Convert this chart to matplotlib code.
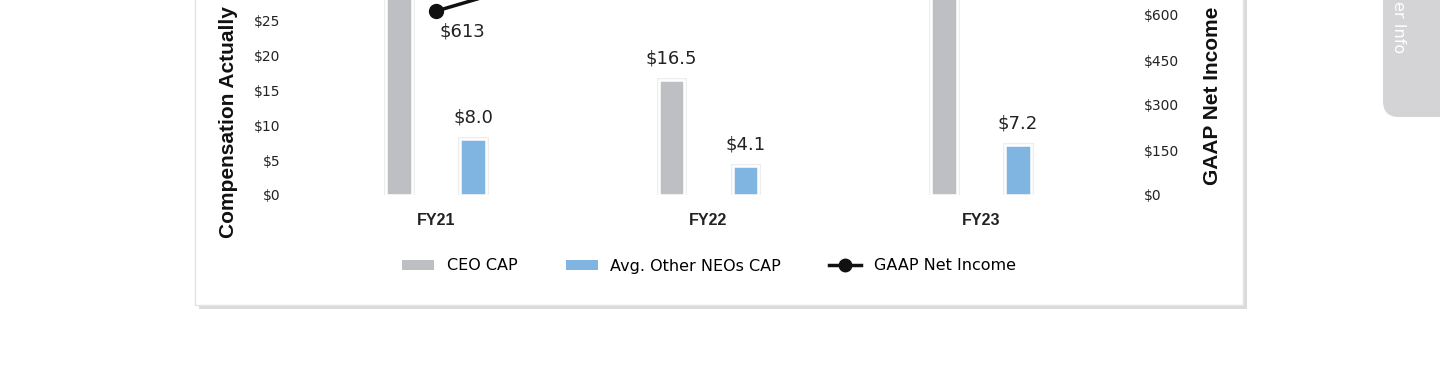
import matplotlib
matplotlib.use("Agg")
import matplotlib.pyplot as plt
import matplotlib.patheffects as pe
from matplotlib.patches import Patch, Rectangle, FancyBboxPatch
from matplotlib.lines import Line2D

# data (values above the visible frame are estimates)
years = ["FY21", "FY22", "FY23"]
ceo_cap = [45.0, 16.5, 40.0]
neo_cap = [8.0, 4.1, 7.2]
net_income = [613, 880, 900]
neo_labels = ["$8.0", "$4.1", "$7.2"]
ceo_labels = [None, "$16.5", None]
ni_labels = ["$613", None, None]
left_ticks = [0, 5, 10, 15, 20, 25]
right_ticks = [0, 150, 300, 450, 600]

gray = "#bebfc3"
blue = "#80b5e1"
num_font = "DejaVu Sans"

W, H = 1440, 375
fig = plt.figure(figsize=(W / 100, H / 100), dpi=100)

# background: card + side tab, drawn in pixel coords
bg = fig.add_axes([0, 0, 1, 1], zorder=-5)
bg.set_xlim(0, W)
bg.set_ylim(H, 0)
bg.axis("off")
card = Rectangle((195, -50), 1048, 355, facecolor="white", edgecolor="#e4e4e4", lw=1,
                 path_effects=[pe.SimplePatchShadow(offset=(3, -3), shadow_rgbFace="#9a9a9a", alpha=0.35),
                               pe.Normal()])
bg.add_patch(card)
tab = FancyBboxPatch((1383, -60), 120, 177, boxstyle="round,pad=0,rounding_size=16",
                     facecolor="#d4d4d6", edgecolor="none")
bg.add_patch(tab)
bg.text(1399, 53, "er Info", rotation=-90, color="white", fontsize=11.5,
        family=num_font, ha="center", va="bottom")

# main axes
ax = fig.add_axes([290 / W, 1 - 195 / H, 840 / W, 195 / H])
ax.set_xlim(-0.536, 2.547)
ax.set_ylim(0, 195 / 6.96)
ax2 = ax.twinx()
ax2.set_ylim(0, 195 / 0.300)

x = range(len(years))
off = 0.136
bw = 0.094
glow = [pe.SimplePatchShadow(offset=(1.5, -1.5), shadow_rgbFace="#cfcfcf", alpha=0.6),
        pe.Stroke(linewidth=3.6, foreground="#ededed"),
        pe.Normal()]
b1 = ax.bar([i - off for i in x], ceo_cap, bw, color=gray, edgecolor="white", lw=1.8)
b2 = ax.bar([i + off for i in x], neo_cap, bw, color=blue, edgecolor="white", lw=1.8)
for b in list(b1) + list(b2):
    b.set_path_effects(glow)

for rect, lab in zip(b1, ceo_labels):
    if lab:
        ax.annotate(lab, (rect.get_x() + rect.get_width() / 2, rect.get_height()),
                    xytext=(0, 9), textcoords="offset points", ha="center", va="bottom",
                    fontsize=13, family=num_font, color="#222222")
for rect, lab in zip(b2, neo_labels):
    ax.annotate(lab, (rect.get_x() + rect.get_width() / 2, rect.get_height()),
                xytext=(0, 9), textcoords="offset points", ha="center", va="bottom",
                fontsize=13, family=num_font, color="#222222")

ax2.plot(list(x), net_income, color="#111111", lw=2.5, marker="o", ms=10)
for i, lab in enumerate(ni_labels):
    if lab:
        ax2.annotate(lab, (i, net_income[i]), xytext=(19, -15), textcoords="offset points",
                     ha="center", va="center", fontsize=13, family=num_font, color="#222222")

for a in (ax, ax2):
    for s in a.spines.values():
        s.set_visible(False)
    a.patch.set_visible(False)

ax.set_yticks(left_ticks)
ax.set_yticklabels([f"${t}" for t in left_ticks], family=num_font, fontsize=10, color="#222222")
ax.tick_params(axis="y", length=0, pad=7)
ax2.set_yticks(right_ticks)
ax2.set_yticklabels([f"${t}" for t in right_ticks], family=num_font, fontsize=10, color="#222222")
ax2.tick_params(axis="y", length=0, pad=10)
ax.set_xticks(list(x))
ax.set_xticklabels(years, fontweight="bold", fontsize=11.5, family="Liberation Sans", color="#222222")
ax.tick_params(axis="x", length=0, pad=13)

fig.text(229 / W, 1 - 238 / H, "Compensation Actually", rotation=90, ha="center", va="bottom",
         fontsize=15, fontweight="bold", family="Liberation Sans", color="#111111")
fig.text(1213 / W, 1 - 185 / H, "GAAP Net Income", rotation=90, ha="center", va="bottom",
         fontsize=15, fontweight="bold", family="Liberation Sans", color="#111111")

handles = [Patch(facecolor=gray, edgecolor="none"),
           Patch(facecolor=blue, edgecolor="none"),
           Line2D([0], [0], color="#111111", lw=2.5, marker="o", ms=9)]
fig.legend(handles, ["CEO CAP", "Avg. Other NEOs CAP", "GAAP Net Income"], ncol=3,
           loc="center", bbox_to_anchor=(709 / W, 1 - 266 / H), frameon=False,
           prop={"family": num_font, "size": 11.5}, handlelength=2.0, handleheight=0.65,
           handletextpad=0.8, columnspacing=3.0)

fig.savefig("out.png", dpi=100, facecolor="white")
